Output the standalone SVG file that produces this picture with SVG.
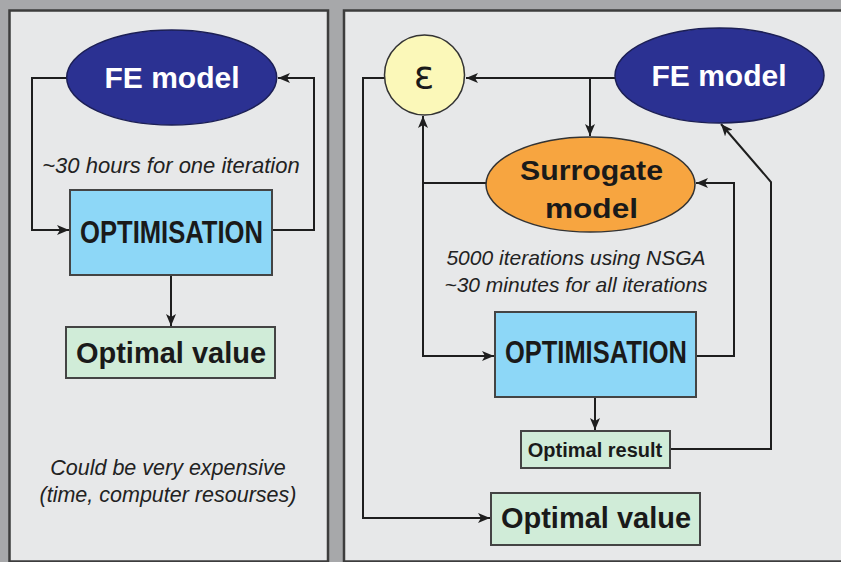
<svg xmlns="http://www.w3.org/2000/svg" width="841" height="562" viewBox="0 0 841 562">
<style>
.panel{fill:#e7e8e9;stroke:#3d3d3d;stroke-width:2.5}
.fe{fill:#2b3192;stroke:#1c1f55;stroke-width:1.5}
.fet{font-family:"Liberation Sans",Arial,sans-serif;font-weight:bold;font-size:30px;fill:#ffffff;text-anchor:middle}
.opt{fill:#8dd7f7;stroke:#444;stroke-width:2}
.res{fill:#d0ecd8;stroke:#444;stroke-width:2}
.bt{font-family:"Liberation Sans",Arial,sans-serif;font-weight:bold;fill:#1a1a1a;text-anchor:middle}
.it{font-family:"Liberation Sans",Arial,sans-serif;font-style:italic;fill:#222;text-anchor:middle}
.ln{fill:none;stroke:#1e1e1e;stroke-width:2}
</style>
<defs>
<marker id="ah" markerUnits="userSpaceOnUse" markerWidth="12" markerHeight="10" refX="12" refY="5" orient="auto">
<path d="M0,0 L12,5 L0,10 L3,5 z" fill="#1e1e1e"/>
</marker>
</defs>
<rect x="0" y="0" width="841" height="562" fill="#a7a8aa"/>
<rect class="panel" x="9.5" y="10.5" width="318.5" height="551"/>
<rect class="panel" x="344" y="10.5" width="520" height="551"/>

<g id="connectors">
<path class="ln" d="M67,78 H32 V230 H69" marker-end="url(#ah)"/>
<path class="ln" d="M272,230 H314 V78 H278" marker-end="url(#ah)"/>
<path class="ln" d="M171,275 V326" marker-end="url(#ah)"/>
<path class="ln" d="M615,78 H466" marker-end="url(#ah)"/>
<path class="ln" d="M590,78 V136" marker-end="url(#ah)"/>
<path class="ln" d="M487,183 H423 V116" marker-end="url(#ah)"/>
<path class="ln" d="M423,183 V356 H494" marker-end="url(#ah)"/>
<path class="ln" d="M696,356 H734 V183 H696" marker-end="url(#ah)"/>
<path class="ln" d="M595,397 V430" marker-end="url(#ah)"/>
<path class="ln" d="M670,449 H771 V182 L721,124" marker-end="url(#ah)"/>
<path class="ln" d="M385,78 H363 V518 H490" marker-end="url(#ah)"/>
</g>

<g id="fe-left">
<ellipse class="fe" cx="171.7" cy="77.5" rx="105" ry="47.5"/>
<text class="fet" x="172" y="88">FE model</text>
</g>
<g id="note-left">
<text class="it" x="171" y="173" font-size="22">~30 hours for one iteration</text>
</g>
<g id="opt-left">
<rect class="opt" x="70" y="190" width="202" height="85"/>
<text class="bt" x="171.5" y="243" font-size="31" textLength="183" lengthAdjust="spacingAndGlyphs">OPTIMISATION</text>
</g>
<g id="value-left">
<rect class="res" x="66" y="327" width="209" height="51"/>
<text class="bt" x="171" y="363" font-size="29">Optimal value</text>
</g>
<g id="expensive-note">
<text class="it" x="168" y="475" font-size="21.5">Could be very expensive</text>
<text class="it" x="168" y="502" font-size="21.5">(time, computer resourses)</text>
</g>

<g id="epsilon">
<circle cx="424.5" cy="75" r="40" fill="#fbf8b9" stroke="#333" stroke-width="1.5"/>
<text x="424" y="88" font-family="DejaVu Sans,sans-serif" font-size="38" fill="#1a1a1a" text-anchor="middle">ε</text>
</g>
<g id="fe-right">
<ellipse class="fe" cx="719.5" cy="75.5" rx="104.5" ry="47.5"/>
<text class="fet" x="719" y="86">FE model</text>
</g>
<g id="surrogate">
<ellipse cx="590.5" cy="184.5" rx="104.5" ry="47.5" fill="#f7a540" stroke="#333" stroke-width="1.5"/>
<text class="bt" x="591.5" y="180" font-size="27" textLength="143" lengthAdjust="spacingAndGlyphs">Surrogate</text>
<text class="bt" x="591.5" y="218" font-size="27" textLength="93" lengthAdjust="spacingAndGlyphs">model</text>
</g>
<g id="note-right">
<text class="it" x="576" y="265" font-size="21">5000 iterations using NSGA</text>
<text class="it" x="576" y="292" font-size="21">~30 minutes for all iterations</text>
</g>
<g id="opt-right">
<rect class="opt" x="495" y="312" width="201" height="85"/>
<text class="bt" x="596" y="363" font-size="31" textLength="182" lengthAdjust="spacingAndGlyphs">OPTIMISATION</text>
</g>
<g id="result">
<rect class="res" x="521" y="431" width="149" height="37"/>
<text class="bt" x="595" y="457" font-size="20">Optimal result</text>
</g>
<g id="value-right">
<rect class="res" x="491" y="493" width="209" height="52"/>
<text class="bt" x="596" y="528" font-size="29">Optimal value</text>
</g>
</svg>
